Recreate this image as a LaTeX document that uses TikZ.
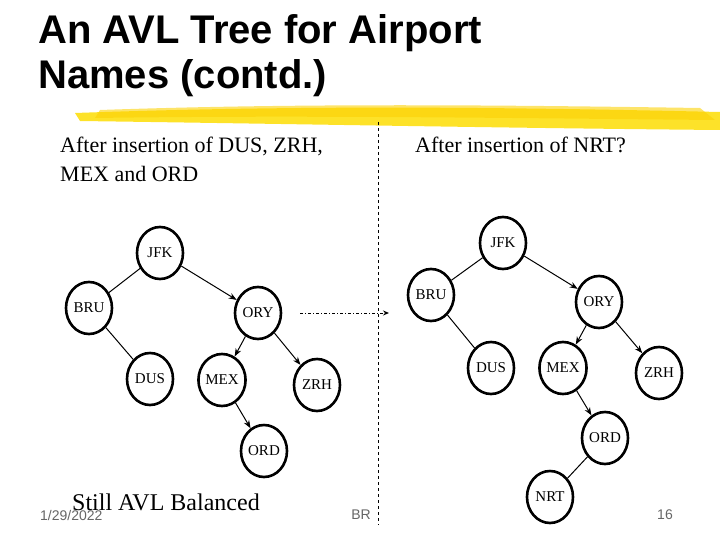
\documentclass[tikz,border=0pt]{standalone}
\usepackage{fontspec}
\setmainfont{Liberation Serif}
\newfontfamily\titlefont{Liberation Sans}
\usetikzlibrary{arrows.meta,shapes.geometric}
\begin{document}
\begin{tikzpicture}[x=1pt,y=-1pt,
  nd/.style={draw,ellipse,line width=2.6pt,minimum width=46pt,minimum height=52pt,inner sep=0pt,font=\fontsize{15}{15}\selectfont},
  ed/.style={line width=1pt},
  ar/.style={line width=1pt,-{Stealth[length=8pt,width=6pt]}},
  foot/.style={font=\titlefont\fontsize{14}{14}\selectfont,text=black!60,inner sep=0pt}]
\useasboundingbox (0,0) rectangle (720,540);
% title
\node[anchor=north west,inner sep=0pt,align=left,font=\titlefont\bfseries\fontsize{40}{45}\selectfont] (title) at (38,14) {An AVL Tree for Airport\\Names (contd.)};
% brush stroke
\fill[yellow!80!orange,opacity=0.85] (75,113) .. controls (300,105) and (500,107) .. (720,112) -- (720,130) .. controls (500,128) and (300,124) .. (80,121) -- cycle;
\fill[yellow!70!orange,opacity=0.6] (100,110) .. controls (300,103) and (500,105) .. (700,108) -- (715,120) .. controls (500,118) and (300,115) .. (95,118) -- cycle;
% texts
\node[anchor=north west,inner sep=0pt,align=left,font=\fontsize{22}{29}\selectfont] (t1) at (60,137) {After insertion of DUS, ZRH,\\MEX and ORD};
\node[anchor=north west,inner sep=0pt,font=\fontsize{22}{29}\selectfont] (t2) at (415,137) {After insertion of NRT?};
\node[anchor=west,inner sep=0pt,font=\fontsize{24}{24}\selectfont] (t3) at (72,502) {Still AVL Balanced};
\node[foot,anchor=west] (f1) at (40,515) {1/29/2022};
\node[foot] (f2) at (361,515) {BR};
\node[foot] (f3) at (665,515) {16};
% divider
\coordinate (d1) at (378,122); \coordinate (d2) at (378,525);
\draw[dashed,line width=0.8pt] (d1) -- (d2);
% left tree
\node[nd] (lJ) at (160,253) {JFK};
\node[nd] (lB) at (89,308) {BRU};
\node[nd] (lO) at (258,313) {ORY};
\node[nd] (lD) at (150,379) {DUS};
\node[nd] (lM) at (222,380) {MEX};
\node[nd] (lZ) at (317,385) {ZRH};
\node[nd] (lR) at (264,451) {ORD};
\draw[ed] (lJ) -- (lB);
\draw[ar] (lJ) -- (lO);
\draw[ed] (lB) -- (lD);
\draw[ar] (lO) -- (lM);
\draw[ar] (lO) -- (lZ);
\draw[ar] (lM) -- (lR);
% arrow
\coordinate (a1) at (300,313); \coordinate (a2) at (389,313);
\draw[line width=1pt,dash dot,-{Stealth[length=6pt,width=5pt]}] (a1) -- (a2);
% right tree
\node[nd] (rJ) at (503,243) {JFK};
\node[nd] (rB) at (431,295) {BRU};
\node[nd] (rO) at (599,302) {ORY};
\node[nd] (rD) at (491,368) {DUS};
\node[nd] (rM) at (563,368) {MEX};
\node[nd] (rZ) at (659,373) {ZRH};
\node[nd] (rR) at (605,438) {ORD};
\node[nd] (rN) at (550,497) {NRT};
\draw[ed] (rJ) -- (rB);
\draw[ar] (rJ) -- (rO);
\draw[ed] (rB) -- (rD);
\draw[ar] (rO) -- (rM);
\draw[ar] (rO) -- (rZ);
\draw[ar] (rM) -- (rR);
\draw[ed] (rR) -- (rN);
\end{tikzpicture}
\end{document}
